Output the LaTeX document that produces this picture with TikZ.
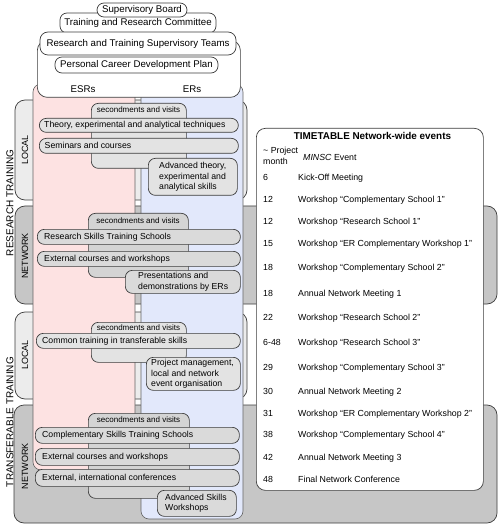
\documentclass[tikz,border=0pt]{standalone}
\usepackage{fontspec}
\setmainfont{Liberation Sans}
\definecolor{lc}{HTML}{3C3C3C}
\definecolor{pinkc}{HTML}{FDE2E2}
\definecolor{bluec}{HTML}{E2E8FB}
\definecolor{bgL}{HTML}{ECECEC}
\definecolor{bgN}{HTML}{C6C6C6}
\definecolor{itL}{HTML}{E3E3E3}
\definecolor{itN}{HTML}{DADADA}
\definecolor{tbN}{HTML}{D4D4D4}
\tikzset{
  ln/.style={draw=lc, line width=0.7pt},
  secbg/.style={ln, rounded corners=10pt},
  colbox/.style={draw=lc!80, line width=0.6pt, rounded corners=8pt},
  topbox/.style={ln, fill=white, rounded corners=7pt, inner sep=0pt, font=\fontsize{9.7}{11}\selectfont},
  boxL/.style={ln, fill=itL, rounded corners=7pt, anchor=north west, inner sep=0pt},
  boxN/.style={boxL, fill=itN},
  trunkN/.style={boxL, fill=tbN},
  itxt/.style={anchor=west, inner sep=0pt, align=left, font=\fontsize{8.7}{10.3}\selectfont},
  tabtxt/.style={font=\fontsize{8}{9}\selectfont, inner sep=0pt},
  sidelbl/.style={rotate=90, font=\fontsize{9}{10}\selectfont, inner sep=0pt},
  mainlbl/.style={rotate=90, font=\fontsize{10}{11}\selectfont, inner sep=0pt},
  tt/.style={anchor=base west, inner sep=0pt, font=\fontsize{8.8}{10}\selectfont},
}
\begin{document}
\begin{tikzpicture}[x=1pt,y=-1pt]
\useasboundingbox (0,0) rectangle (500,526);
% section backgrounds
\draw[secbg, fill=bgL] (15,100) rectangle (247,200);
\draw[secbg, fill=bgN] (15,206) rectangle (497,304);
\draw[secbg, fill=bgL] (15,312) rectangle (247,399);
\draw[secbg, fill=bgN] (14,405) rectangle (497,523);
% columns
\draw[colbox, fill=pinkc] (33,84) rectangle (135,470);
\draw[colbox, fill=bluec] (141,84) rectangle (243,519);
% labels
\node[mainlbl] (lblRT) at (10,203) {RESEARCH TRAINING};
\node[mainlbl] (lblTT) at (10,422) {TRANSFERABLE TRAINING};
\node[sidelbl] (lblL1) at (25,150) {LOCAL};
\node[sidelbl] (lblN1) at (25,256) {NETWORK};
\node[sidelbl] (lblL2) at (25,355) {LOCAL};
\node[sidelbl] (lblN2) at (25,466) {NETWORK};
% top
\node[topbox, minimum width=156pt, minimum height=20pt] (committee) at (138,23) {Training and Research Committee};
\node[topbox, minimum width=90pt, minimum height=14pt] (board) at (142,10) {Supervisory Board};
\node[ln, fill=white, rounded corners=10pt, anchor=north west, minimum width=203pt, minimum height=57pt, inner sep=0pt] (bigbox) at (37,40) {};
\node[topbox, minimum width=196pt, minimum height=23pt, rounded corners=8pt] (teams) at (138,43.5) {Research and Training Supervisory Teams};
\node[topbox, minimum width=163pt, minimum height=16pt] (plan) at (136.5,65) {Personal Career Development Plan};
\node[font=\fontsize{9.7}{11}\selectfont, inner sep=0pt] (esrs) at (83,89) {ESRs};
\node[font=\fontsize{9.7}{11}\selectfont, inner sep=0pt] (ers) at (192,89) {ERs};
% section 1
\node[boxL, minimum width=95pt, minimum height=65pt] (tab1) at (91,103) {};
\node[tabtxt] (tab1t) at (138.5,110) {secondments and visits};
\node[boxL, minimum width=199pt, minimum height=14pt] (theory) at (39,118) {};
\node[itxt] (theoryT) at ([xshift=5pt]theory.west) {Theory, experimental and analytical techniques};
\node[boxL, minimum width=199pt, minimum height=15pt] (seminars) at (39,138) {};
\node[itxt] (seminarsT) at ([xshift=5.5pt]seminars.west) {Seminars and courses};
\node[boxL, minimum width=89pt, minimum height=37pt] (adv1) at (148,158) {};
\node[itxt] (adv1T) at ([xshift=11pt]adv1.west) {Advanced theory,\\experimental and\\analytical skills};
% section 2
\node[trunkN, minimum width=100pt, minimum height=64pt] (tab2) at (88,213) {};
\node[tabtxt] (tab2t) at (138,221) {secondments and visits};
\node[boxN, minimum width=203pt, minimum height=15pt] (rsts) at (37,229) {};
\node[itxt] (rstsT) at ([xshift=7pt]rsts.west) {Research Skills Training Schools};
\node[boxN, minimum width=203pt, minimum height=15pt] (ext1) at (37,251) {};
\node[itxt] (ext1T) at ([xshift=7pt]ext1.west) {External courses and workshops};
\node[boxN, minimum width=115pt, minimum height=23pt] (pres) at (125,270) {};
\node[itxt] (presT) at ([xshift=13pt]pres.west) {Presentations and\\demonstrations by ERs};
% section 3
\node[boxL, minimum width=95pt, minimum height=40pt] (tab3) at (91,322) {};
\node[tabtxt] (tab3t) at (138.5,327.5) {secondments and visits};
\node[boxL, minimum width=204pt, minimum height=15pt] (common) at (36,333) {};
\node[itxt] (commonT) at ([xshift=6pt]common.west) {Common training in transferable skills};
\node[boxL, minimum width=94pt, minimum height=33pt] (proj) at (146,357) {};
\node[itxt] (projT) at ([xshift=5pt]proj.west) {Project management,\\local and network\\event organisation};
% section 4
\node[trunkN, minimum width=101pt, minimum height=85pt] (tab4) at (88,413) {};
\node[tabtxt] (tab4t) at (138.5,420) {secondments and visits};
\node[boxN, minimum width=204pt, minimum height=16pt] (csts) at (35,427) {};
\node[itxt] (cstsT) at ([xshift=7pt]csts.west) {Complementary Skills Training Schools};
\node[boxN, minimum width=204pt, minimum height=17pt] (ext2) at (35,448) {};
\node[itxt] (ext2T) at ([xshift=7pt]ext2.west) {External courses and workshops};
\node[boxN, minimum width=204pt, minimum height=17pt] (extconf) at (35,469) {};
\node[itxt] (extconfT) at ([xshift=7pt]extconf.west) {External, international conferences};
\node[boxN, minimum width=79pt, minimum height=26pt] (advsk) at (157,490) {};
\node[itxt] (advskT) at ([xshift=8pt]advsk.west) {Advanced Skills\\Workshops};
% timetable
\node[ln, fill=white, rounded corners=9pt, anchor=north west, minimum width=227pt, minimum height=362pt, inner sep=0pt] (timetable) at (256,128) {};
\node[anchor=base, inner sep=0pt, font=\bfseries\fontsize{9.9}{11}\selectfont] (ttitle) at (372.5,139.5) {TIMETABLE Network-wide events};
\node[tt] (hm1) at (263,154) {\textasciitilde{} Project};
\node[tt] (hm2) at (263,165) {month};
\node[tt] (hev) at (303,161) {\textit{MINSC} Event};
\foreach \yy/\mm/\ev [count=\i] in {
 177/6/{Kick-Off Meeting},
 199/12/{Workshop “Complementary School 1”},
 221/12/{Workshop “Research School 1”},
 243/15/{Workshop “ER Complementary Workshop 1”},
 267/18/{Workshop “Complementary School 2”},
 293/18/{Annual Network Meeting 1},
 317/22/{Workshop “Research School 2”},
 342/6-48/{Workshop “Research School 3”},
 367/29/{Workshop “Complementary School 3”},
 391/30/{Annual Network Meeting 2},
 413/31/{Workshop “ER Complementary Workshop 2”},
 434/38/{Workshop “Complementary School 4”},
 457/42/{Annual Network Meeting 3},
 479/48/{Final Network Conference}}{
  \node[tt] (m\i) at (263,\yy+3.2) {\mm};
  \node[tt] (e\i) at (298,\yy+3.2) {\ev};
}
\end{tikzpicture}
\end{document}
